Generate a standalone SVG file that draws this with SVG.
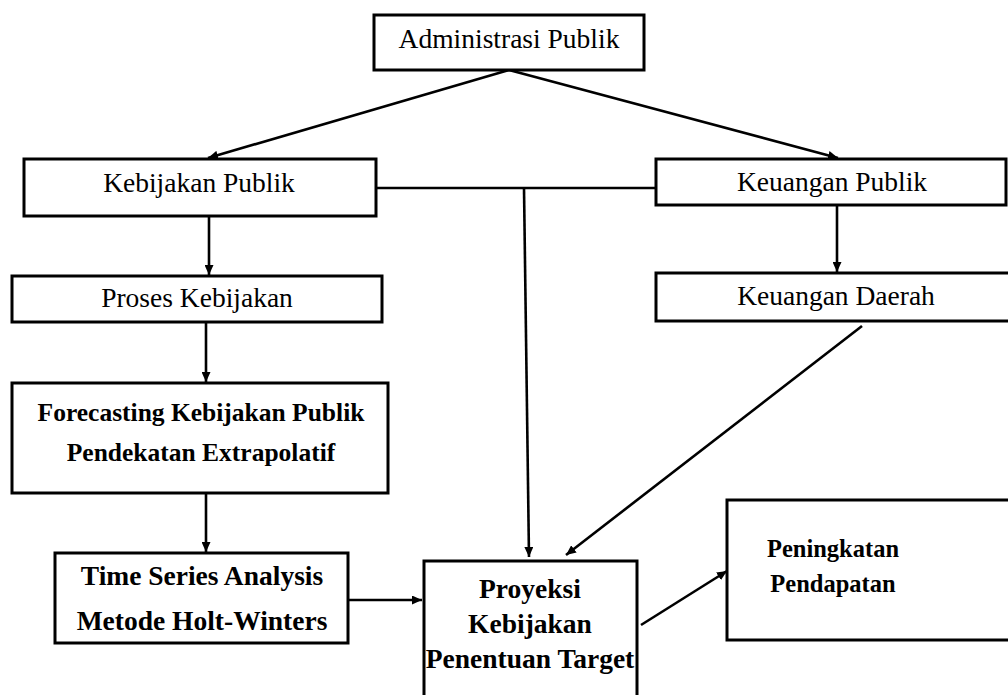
<svg xmlns="http://www.w3.org/2000/svg" width="1008" height="695" viewBox="0 0 1008 695">
<style>
  .box { fill: #ffffff; stroke: #000000; stroke-width: 3; }
  .t { font-family: "Liberation Serif", "Times New Roman", serif; fill: #000000; text-anchor: middle; }
  .r { font-size: 27.5px; }
  .b { font-weight: bold; }
  .con { stroke: #000000; stroke-width: 2.6; fill: none; }
</style>
<defs>
  <marker id="arr" markerUnits="userSpaceOnUse" markerWidth="11" markerHeight="9" refX="10" refY="4.5" orient="auto">
    <path d="M0,0 L10,4.5 L0,9 Z" fill="#000000"/>
  </marker>
</defs>
<rect width="1008" height="695" fill="#ffffff"/>
<g id="connectors">
  <line class="con" x1="509" y1="70" x2="208" y2="158" marker-end="url(#arr)"/>
  <line class="con" x1="509" y1="70" x2="838" y2="158" marker-end="url(#arr)"/>
  <line class="con" x1="376" y1="188" x2="656" y2="188"/>
  <line class="con" x1="524" y1="188" x2="529" y2="557" marker-end="url(#arr)"/>
  <line class="con" x1="209" y1="216" x2="209" y2="275" marker-end="url(#arr)"/>
  <line class="con" x1="837" y1="205" x2="837" y2="272" marker-end="url(#arr)"/>
  <line class="con" x1="862" y1="326" x2="566" y2="555" marker-end="url(#arr)"/>
  <line class="con" x1="206" y1="322" x2="206" y2="382" marker-end="url(#arr)"/>
  <line class="con" x1="206" y1="493" x2="206" y2="552" marker-end="url(#arr)"/>
  <line class="con" x1="348" y1="600" x2="422" y2="600" marker-end="url(#arr)"/>
  <line class="con" x1="641" y1="625" x2="727" y2="571" marker-end="url(#arr)"/>
</g>
<g id="admin">
  <rect class="box" x="374" y="15" width="270" height="55"/>
  <text class="t r" x="509" y="48">Administrasi Publik</text>
</g>
<g id="kebijakan-publik">
  <rect class="box" x="24" y="159" width="352" height="57"/>
  <text class="t r" x="199" y="192">Kebijakan Publik</text>
</g>
<g id="keuangan-publik">
  <rect class="box" x="656" y="159" width="350" height="46"/>
  <text class="t r" x="832" y="191">Keuangan Publik</text>
</g>
<g id="proses-kebijakan">
  <rect class="box" x="12" y="276" width="370" height="46"/>
  <text class="t r" x="197" y="307">Proses Kebijakan</text>
</g>
<g id="keuangan-daerah">
  <rect class="box" x="656" y="273" width="360" height="48"/>
  <text class="t r" x="836" y="305">Keuangan Daerah</text>
</g>
<g id="forecasting">
  <rect class="box" x="12" y="383" width="376" height="110"/>
  <text class="t b" style="font-size:25.5px" x="201" y="421">Forecasting Kebijakan Publik</text>
  <text class="t b" style="font-size:25.5px" x="201" y="461">Pendekatan Extrapolatif</text>
</g>
<g id="time-series">
  <rect class="box" x="55" y="553" width="293" height="90"/>
  <text class="t b" style="font-size:27.5px" x="202" y="585">Time Series Analysis</text>
  <text class="t b" style="font-size:27.5px" x="202" y="630">Metode Holt-Winters</text>
</g>
<g id="proyeksi">
  <rect class="box" x="424" y="561" width="213" height="150"/>
  <text class="t b" style="font-size:27.5px" x="530" y="598">Proyeksi</text>
  <text class="t b" style="font-size:27.5px" x="530" y="633">Kebijakan</text>
  <text class="t b" style="font-size:27.5px" x="530" y="668">Penentuan Target</text>
</g>
<g id="peningkatan">
  <rect class="box" x="727" y="500" width="300" height="140"/>
  <text class="t b" style="font-size:24.5px" x="833" y="557">Peningkatan</text>
  <text class="t b" style="font-size:24.5px" x="833" y="592">Pendapatan</text>
</g>
</svg>
